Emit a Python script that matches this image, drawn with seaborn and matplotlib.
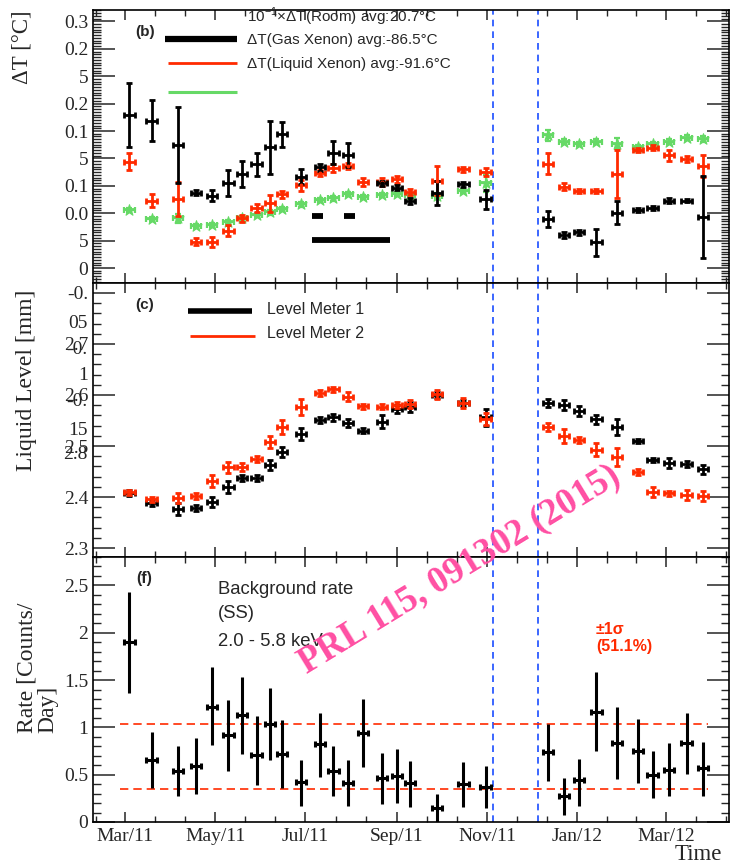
import numpy as np
import pandas as pd
import matplotlib
matplotlib.use("Agg")
import matplotlib.pyplot as plt
import matplotlib.dates as mdates
import matplotlib.transforms as mtransforms
from matplotlib.lines import Line2D
import seaborn as sns

# ---------------- data ----------------
dates = ["2011-03-04", "2011-03-19", "2011-04-06", "2011-04-18", "2011-04-29",
         "2011-05-10", "2011-05-19", "2011-05-29", "2011-06-07", "2011-06-15",
         "2011-06-28", "2011-07-11", "2011-07-20", "2011-07-30", "2011-08-09",
         "2011-08-22", "2011-09-01", "2011-09-10", "2011-09-28", "2011-10-16",
         "2011-10-31", "2011-12-12", "2011-12-23", "2012-01-02", "2012-01-14",
         "2012-01-28", "2012-02-11", "2012-02-21", "2012-03-03", "2012-03-15",
         "2012-03-26"]
xerr_days = 3.5

month_ticks = ["2011-01-01", "2011-03-01", "2011-05-01", "2011-07-01", "2011-09-01",
               "2011-11-01", "2012-01-01", "2012-03-01", "2012-05-01"]
month_labels = ["", "Mar/11", "May/11", "Jul/11", "Sep/11", "Nov/11", "Jan/12", "Mar/12", ""]
x_range = ["2011-02-07 08:00", "2012-04-12 16:00"]
blue_lines = ["2011-11-05 00:00", "2011-12-05 10:00"]

# (b) temperature panel (garbled ROOT axis -> values in tick units)
dT_tick_labels = ["0", "5", "0.0", "0.1", "5", "0.1", "0.2", "5", "0.2", "0.3"]
gas_T = [5.58, 5.38, 4.49, 2.75, 2.63, 3.09, 3.43, 3.78, 4.40, 4.88, 3.33, 3.67, 4.21, 4.12,
         np.nan, 3.09, 2.93, 2.45, 2.75, 3.05, 2.51, 1.79, 1.20, 1.30, 0.94, 2.02, 2.12, 2.18,
         2.46, 2.46, 1.85]
gas_T_err = [1.17, 0.76, 1.40, 0.10, 0.20, 0.47, 0.49, 0.43, 0.97, 0.46, 0.27, 0.12, 0.43, 0.43,
             np.nan, 0.10, 0.10, 0.12, 0.44, 0.08, 0.35, 0.28, 0.10, 0.08, 0.50, 0.43, 0.06, 0.08,
             0.10, 0.06, 1.49]
liq_T = [3.88, 2.46, 2.52, 0.96, 0.96, 1.36, 1.81, 2.18, 2.36, 2.69, 3.02, 3.46, 3.64, 3.73,
         3.15, 3.15, 3.24, 2.78, 3.19, 3.60, 3.49, 3.80, 2.97, 2.81, 2.82, 3.43, 4.31, 4.39,
         4.12, 3.97, 3.73]
liq_T_err = [0.32, 0.25, 0.61, 0.12, 0.18, 0.21, 0.12, 0.15, 0.30, 0.12, 0.20, 0.12, 0.15, 0.12,
             0.15, 0.15, 0.12, 0.12, 0.52, 0.10, 0.15, 0.38, 0.12, 0.08, 0.08, 0.86, 0.08, 0.10,
             0.20, 0.10, 0.41]
room_T = [2.12, 1.79, 1.81, 1.53, 1.57, 1.69, 1.81, 1.93, 2.03, 2.15, 2.32, 2.48, 2.54, 2.70,
          2.60, 2.66, 2.69, 2.66, 2.64, 2.81, 3.09, 4.85, 4.61, 4.53, 4.61, 4.53, 4.41, 4.53,
          4.61, 4.76, 4.70]
room_T_err = [0.08, 0.08, 0.15, 0.08, 0.08, 0.08, 0.08, 0.08, 0.08, 0.08, 0.08, 0.08, 0.08, 0.08,
              0.08, 0.08, 0.08, 0.08, 0.08, 0.08, 0.30, 0.20, 0.08, 0.08, 0.08, 0.20, 0.08, 0.08,
              0.08, 0.08, 0.10]

# (c) liquid level panel
lm1 = [2.408, 2.388, 2.376, 2.379, 2.390, 2.420, 2.437, 2.438, 2.463, 2.489, 2.524, 2.551,
       2.556, 2.545, 2.530, 2.548, 2.573, 2.577, 2.600, 2.584, 2.556, 2.584, 2.581, 2.568,
       2.552, 2.537, 2.509, 2.472, 2.467, 2.465, 2.454]
lm1_err = [0.006, 0.006, 0.012, 0.006, 0.010, 0.012, 0.006, 0.006, 0.010, 0.010, 0.012, 0.005,
           0.006, 0.008, 0.005, 0.012, 0.008, 0.010, 0.006, 0.006, 0.017, 0.008, 0.010, 0.010,
           0.008, 0.015, 0.004, 0.004, 0.010, 0.006, 0.008]
lm2 = [2.409, 2.396, 2.398, 2.402, 2.431, 2.458, 2.459, 2.474, 2.508, 2.537, 2.577, 2.604,
       2.611, 2.597, 2.578, 2.577, 2.581, 2.583, 2.601, 2.584, 2.553, 2.537, 2.519, 2.512,
       2.493, 2.478, 2.449, 2.410, 2.407, 2.404, 2.402]
lm2_err = [0.005, 0.005, 0.010, 0.006, 0.012, 0.010, 0.008, 0.006, 0.012, 0.014, 0.016, 0.005,
           0.005, 0.008, 0.005, 0.005, 0.006, 0.008, 0.008, 0.010, 0.012, 0.008, 0.014, 0.006,
           0.012, 0.018, 0.005, 0.010, 0.005, 0.010, 0.010]
ll_ticks = [2.3, 2.4, 2.5, 2.6, 2.7, 2.8]
ll_tick_labels = ["2.3", "2.4", "2.5", "2.6", "2.7", "-0."]
ll_extra_vals = [2.740, 2.690, 2.638, 2.588, 2.530, 2.484]
ll_extra_text = ["05", "-0.", "1", "-0.", "15", "2.8"]

# (f) background rate panel
rate = [1.90, 0.65, 0.54, 0.59, 1.22, 0.92, 1.13, 0.71, 1.04, 0.72, 0.42, 0.82, 0.54, 0.41,
        0.94, 0.46, 0.49, 0.41, 0.15, 0.40, 0.37, 0.735, 0.27, 0.44, 1.16, 0.84, 0.75, 0.50,
        0.55, 0.84, 0.57]
rate_hi = [2.43, 0.95, 0.80, 0.89, 1.64, 1.29, 1.53, 1.12, 1.42, 1.08, 0.65, 1.15, 0.80, 0.65,
           1.30, 0.73, 0.77, 0.64, 0.295, 0.63, 0.59, 1.04, 0.46, 0.67, 1.59, 1.21, 1.09, 0.75,
           0.83, 1.15, 0.85]
rate_lo = [1.36, 0.355, 0.27, 0.295, 0.81, 0.54, 0.72, 0.39, 0.66, 0.36, 0.17, 0.48, 0.27, 0.17,
           0.58, 0.19, 0.20, 0.16, 0.0, 0.16, 0.15, 0.43, 0.07, 0.17, 0.75, 0.45, 0.41, 0.25,
           0.27, 0.51, 0.28]
sigma_band = [0.35, 1.04]
sigma_span = ["2011-02-25 14:00", "2012-03-29 12:00"]

# ---------------- style ----------------
sns.set_theme(style="ticks")
plt.rcParams["font.family"] = ["Liberation Serif", "DejaVu Serif"]
plt.rcParams["mathtext.fontset"] = "custom"
plt.rcParams["mathtext.rm"] = "Liberation Sans"
plt.rcParams["axes.linewidth"] = 1.2

BLACK = "#000000"
RED = "#ff2a00"
GREEN = "#66d966"
BLUE = "#1a4dff"
PINK = "#ff4fa3"
SANS = ["Liberation Sans", "DejaVu Sans"]

W, H = 730, 866
fig = plt.figure(figsize=(W / 100, H / 100), dpi=100)


def fx(x):
    return x / W


def fy(y):
    return 1 - y / H


L, R = 93, 729


def add_ax(top, bottom):
    return fig.add_axes([fx(L), fy(bottom), (R - L) / W, (bottom - top) / H])


ax1 = add_ax(10, 283)
ax2 = add_ax(283, 557)
ax3 = add_ax(557, 822)


def dnum(lst):
    return mdates.date2num(pd.to_datetime(lst, format="mixed"))


xd = dnum(dates)
maj = dnum(month_ticks)
minors = [a + (b - a) * f for a, b in zip(maj[:-1], maj[1:]) for f in (1 / 3, 2 / 3)]
xlim = dnum(x_range)
blues = dnum(blue_lines)


def draw(ax, y, lo, hi, color, lw=2.0, ycaps=True):
    y = np.asarray(y, float)
    ax.errorbar(xd, y, xerr=xerr_days, fmt="none", ecolor=color, elinewidth=lw,
                capsize=2.2, capthick=lw, zorder=3)
    ax.errorbar(xd, y, yerr=[np.asarray(lo, float), np.asarray(hi, float)], fmt="none",
                ecolor=color, elinewidth=lw, capsize=2.2 if ycaps else 0, capthick=lw, zorder=3)


# ---- panel (b)
draw(ax1, room_T, room_T_err, room_T_err, GREEN, lw=1.6)
sns.scatterplot(x=xd, y=room_T, ax=ax1, marker="*", s=70, color=GREEN,
                edgecolor=GREEN, linewidth=0.8, zorder=3, legend=False)
draw(ax1, liq_T, liq_T_err, liq_T_err, RED)
draw(ax1, gas_T, gas_T_err, gas_T_err, BLACK)
sns.scatterplot(x=xd, y=liq_T, ax=ax1, marker="o", s=8, color=RED, linewidth=0,
                zorder=4, legend=False)
sns.scatterplot(x=xd, y=gas_T, ax=ax1, marker="o", s=8, color=BLACK, linewidth=0,
                zorder=4, legend=False)
ax1.set_yticks(np.arange(len(dT_tick_labels)))
ax1.set_yticks(np.arange(-0.5, 9.45, 0.1), minor=True)
ax1.set_yticklabels(dT_tick_labels)
ax1.set_ylim(-0.547, 9.416)

# ---- panel (c)
draw(ax2, lm1, lm1_err, lm1_err, BLACK)
draw(ax2, lm2, lm2_err, lm2_err, RED)
ax2.set_yticks(ll_ticks)
ax2.set_yticks(np.arange(2.28, 2.82, 0.02), minor=True)
ax2.set_yticklabels(ll_tick_labels)
ax2.set_ylim(2.2825, 2.8195)
tr2 = mtransforms.blended_transform_factory(ax2.transAxes, ax2.transData)
for v, s in zip(ll_extra_vals, ll_extra_text):
    ax2.text(-0.0085, v, s, transform=tr2, ha="right", va="center", fontsize=14)

# ---- panel (f)
rate_a = np.asarray(rate)
draw(ax3, rate, rate_a - np.asarray(rate_lo), np.asarray(rate_hi) - rate_a, BLACK, lw=2.2,
     ycaps=False)
span = dnum(sigma_span)
for v in sigma_band:
    ax3.hlines(v, span[0], span[1], colors=RED, lw=1.2, linestyles=(0, (5, 3)), zorder=2)
ax3.set_yticks([0, 0.5, 1, 1.5, 2, 2.5])
ax3.set_yticks(np.arange(0, 2.81, 0.1), minor=True)
ax3.set_yticklabels(["0", "0.5", "1", "1.5", "2", "2.5"])
ax3.set_ylim(0, 2.80)

for ax in (ax1, ax2, ax3):
    ax.set_xticks(maj)
    ax.set_xticks(minors, minor=True)
    ax.set_xlim(*xlim)
    ax.tick_params(axis="x", which="major", direction="in", length=7, width=1.1,
                   top=True, bottom=True, labelsize=14, pad=4)
    ax.tick_params(axis="x", which="minor", direction="in", length=4.5, width=1.0,
                   top=True, bottom=True)
    ax.tick_params(axis="y", which="major", direction="in", length=16, width=1.1,
                   left=True, right=True, labelsize=14, pad=3.5)
    ax.tick_params(axis="y", which="minor", direction="in", length=6, width=1.0,
                   left=True, right=True)
    for s in ax.spines.values():
        s.set_visible(True)
        s.set_color("black")
        s.set_linewidth(1.2)
    ax.set_facecolor("white")
    for b in blues:
        ax.axvline(b, color=BLUE, lw=1.2, ls=(0, (4, 3)), zorder=1)

ax1.set_xticklabels([])
ax2.set_xticklabels([])
ax3.set_xticklabels(month_labels)


# ---------------- annotations ----------------
def line(x0, x1, y, color, lw):
    fig.add_artist(Line2D([fx(x0), fx(x1)], [fy(y), fy(y)], color=color, lw=lw,
                          solid_capstyle="butt"))


def txt(x, y, s, **kw):
    kw.setdefault("va", "center")
    kw.setdefault("ha", "left")
    fig.text(fx(x), fy(y), s, **kw)


# legend (b) (garbled as in the original)
txt(135, 32, "(b)", fontsize=11, fontweight="bold", family=SANS)
txt(247, 17, "10$^{-1}$×ΔT(Room) avg:20.7°C", fontsize=11, family=SANS, zorder=1)
txt(247, 40, "ΔT(Gas Xenon) avg:-86.5°C", fontsize=11, family=SANS)
txt(247, 64, "ΔT(Liquid Xenon) avg:-91.6°C", fontsize=11, family=SANS)
line(165, 237, 39, BLACK, 4.5)
line(168, 237, 63, RED, 2.0)
line(168, 237, 92, GREEN, 2.2)
line(312, 323, 216, BLACK, 4.2)
line(344, 355, 216, BLACK, 4.2)
line(312, 390, 240, BLACK, 4.2)

# legend (c)
txt(135, 305, "(c)", fontsize=11, fontweight="bold", family=SANS)
line(188, 252, 311, BLACK, 4.0)
line(190, 255, 336, RED, 2.0)
txt(267, 309, "Level Meter 1", fontsize=11.5, family=SANS)
txt(267, 334, "Level Meter 2", fontsize=11.5, family=SANS)

# panel (f) texts
txt(136, 578, "(f)", fontsize=11.5, fontweight="bold", family=SANS)
txt(218, 589, "Background rate", fontsize=13.3, family=SANS)
txt(218, 613, "(SS)", fontsize=13.3, family=SANS)
txt(218, 642, "2.0 - 5.8 keV", fontsize=13.3, family=SANS)
txt(596, 629, "±1σ", fontsize=11.5, fontweight="bold", color=RED, family=SANS)
txt(596, 647, "(51.1%)", fontsize=11.5, fontweight="bold", color=RED, family=SANS)

# axis titles
txt(22, 10, "ΔT [°C]", fontsize=16.5, rotation=90, va="top", ha="center")
txt(27, 290, "Liquid Level [mm]", fontsize=17, rotation=90, va="top", ha="center")
txt(27, 733, "Rate [Counts/", fontsize=17, rotation=90, va="bottom", ha="center")
txt(48, 733, "Day]", fontsize=17, rotation=90, va="bottom", ha="center")
txt(722, 855, "Time", fontsize=16.5, ha="right")

# watermark
fig.text(fx(460), fy(570), "PRL 115, 091302 (2015)", rotation=31.4, rotation_mode="anchor",
         ha="center", va="center", fontsize=26.5, fontweight="bold", color=PINK,
         family=["Liberation Serif", "DejaVu Serif"], zorder=20)

fig.savefig("out.png", dpi=100, facecolor="white")
